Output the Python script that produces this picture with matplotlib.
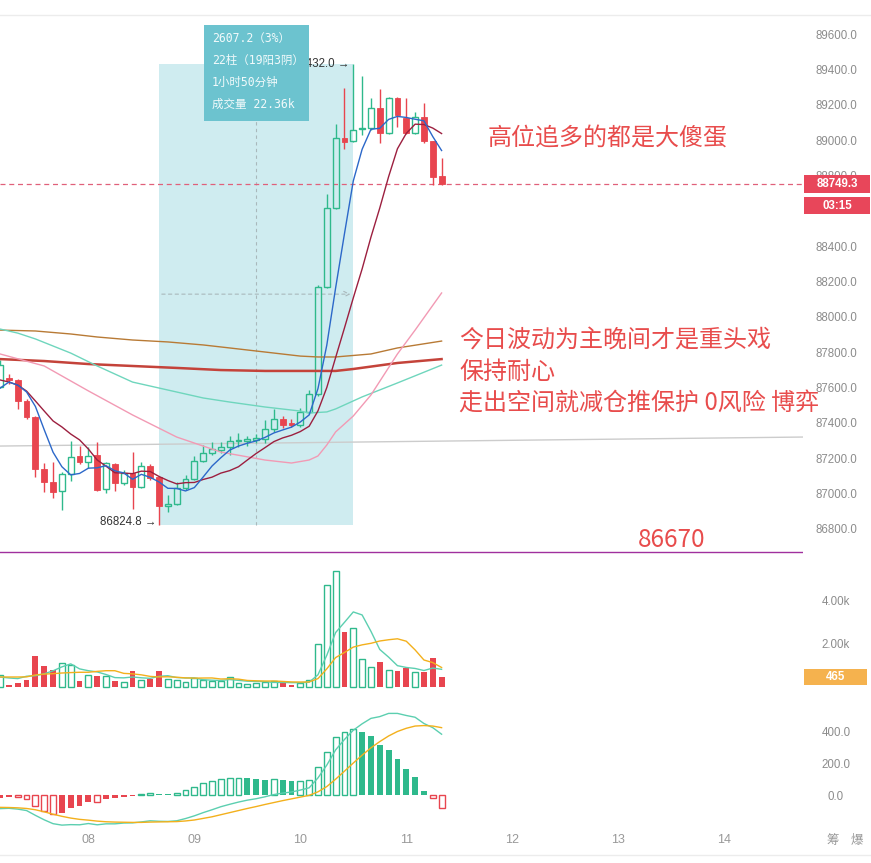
import matplotlib
matplotlib.use("Agg")
import matplotlib.pyplot as plt
from matplotlib.patches import Rectangle
from matplotlib.lines import Line2D
import numpy as np

plt.rcParams['font.family'] = ['Liberation Sans', 'Noto Sans CJK SC', 'DejaVu Sans']

# 2h candles (index 0..50)
opens = [87603, 87654, 87643, 87524, 87433, 87139, 87066, 87015, 87111, 87213,
         87179, 87218, 87026, 87168, 87060, 87117, 87037, 87156, 87094, 86930,
         86941, 87032, 87083, 87184, 87230, 87247, 87264, 87298, 87298, 87303,
         87309, 87365, 87422, 87399, 87388, 87462, 87563, 88169, 88616, 89012,
         88995, 89063, 89068, 89181, 89040, 89238, 89125, 89040, 89130, 88995, 88797]
highs = [87756, 87677, 87648, 87535, 87439, 87173, 87179, 87122, 87298, 87269,
         87264, 87292, 87179, 87173, 87134, 87235, 87179, 87168, 87094, 86992,
         87066, 87105, 87213, 87275, 87292, 87292, 87326, 87343, 87326, 87337,
         87416, 87479, 87439, 87422, 87484, 87586, 88180, 88695, 89091, 89295,
         89432, 89362, 89238, 89289, 89244, 89244, 89238, 89159, 89210, 88995, 88899]
lows = [87595, 87620, 87479, 87422, 87094, 87009, 86975, 86907, 87071, 87168,
        87145, 87015, 87003, 87015, 87049, 86913, 87032, 87077, 86824.8, 86896,
        86936, 87020, 87077, 87179, 87218, 87230, 87218, 87264, 87269, 87286,
        87286, 87349, 87371, 87377, 87377, 87450, 87552, 88163, 88610, 88949,
        88989, 89029, 89057, 88983, 89034, 89074, 89034, 89034, 88983, 88746, 88746]
closes = [87727, 87643, 87524, 87433, 87139, 87066, 87009, 87111, 87207, 87179,
          87213, 87020, 87173, 87060, 87117, 87037, 87156, 87088, 86930, 86941,
          87032, 87083, 87184, 87230, 87252, 87264, 87298, 87303, 87309, 87315,
          87365, 87422, 87388, 87388, 87462, 87563, 88169, 88616, 89012, 88989,
          89057, 89068, 89181, 89040, 89238, 89142, 89040, 89130, 88995, 88791, 88749.3]

ma5 = [87597, 87631, 87614, 87575, 87493, 87361, 87234, 87152, 87106, 87114,
       87144, 87146, 87158, 87129, 87117, 87081, 87109, 87092, 87066, 87030,
       87029, 87015, 87034, 87094, 87156, 87203, 87246, 87269, 87285, 87298,
       87318, 87343, 87360, 87376, 87405, 87445, 87594, 87840, 88164, 88470,
       88769, 88948, 89061, 89067, 89117, 89134, 89128, 89118, 89109, 89020, 88941]
ma10 = [87643, 87631, 87614, 87580, 87524, 87467, 87411, 87377, 87337, 87304,
        87252, 87190, 87155, 87118, 87116, 87113, 87127, 87125, 87097, 87074,
        87055, 87062, 87063, 87080, 87093, 87116, 87130, 87152, 87190, 87227,
        87260, 87294, 87315, 87330, 87351, 87381, 87468, 87600, 87770, 87937,
        88107, 88271, 88451, 88616, 88793, 88951, 89038, 89090, 89088, 89068, 89037]

pink_idx = [0, 5, 10, 15, 20, 25, 30, 33, 35, 36, 37, 38, 40, 42, 45, 47, 50]
pink_val = [87790, 87722, 87581, 87445, 87320, 87235, 87190, 87173, 87190, 87213,
            87275, 87349, 87439, 87558, 87790, 87925, 88135]
teal_idx = [0, 2, 4, 8, 11, 15, 19, 23, 26, 30, 34, 35, 37, 38, 41, 45, 50]
teal_val = [87931, 87908, 87875, 87795, 87722, 87631, 87586, 87541, 87518, 87490,
            87467, 87456, 87462, 87479, 87547, 87626, 87727]
brown_idx = [0, 4, 8, 11, 15, 19, 23, 26, 30, 34, 36, 38, 42, 45, 50]
brown_val = [87925, 87920, 87903, 87886, 87869, 87858, 87841, 87824, 87801, 87778,
             87773, 87773, 87790, 87824, 87863]
red_idx = [0, 5, 10, 15, 20, 25, 30, 35, 38, 40, 45, 50]
red_val = [87761, 87750, 87733, 87722, 87711, 87699, 87694, 87694, 87694, 87705,
           87739, 87761]

volume = [543, 109, 200, 310, 1457, 992, 806, 1116, 1008, 295, 558, 527, 512, 295,
          233, 760, 341, 388, 760, 372, 341, 233, 403, 341, 264, 264, 465, 202, 155,
          202, 233, 264, 202, 109, 202, 326, 2000, 4743, 5394, 2573, 2744, 1302, 930,
          1178, 791, 760, 884, 698, 698, 1364, 465]
vol_ma5 = [465, 420, 390, 500, 524, 614, 753, 936, 1076, 843, 757, 701, 580, 437,
           425, 465, 428, 403, 496, 524, 440, 419, 422, 338, 316, 301, 347, 307, 270,
           258, 251, 211, 211, 202, 202, 221, 568, 1476, 2533, 3007, 3491, 3351, 2589,
           1745, 1389, 992, 909, 862, 766, 881, 822]
vol_ma10 = [465, 465, 465, 470, 560, 600, 620, 650, 670, 684, 685, 727, 758, 757,
            634, 611, 565, 492, 467, 475, 453, 424, 413, 417, 420, 371, 383, 365, 304,
            287, 276, 279, 259, 236, 230, 236, 390, 844, 1368, 1605, 1856, 1960, 2032,
            2139, 2198, 2242, 2130, 1725, 1256, 1135, 907]

macd_hist = [-21, -10, -15, -27, -69, -100, -119, -110, -83, -67, -42, -46, -27, -21,
             -10, -6, 5, 15, 8, 4, 10, 31, 52, 73, 87, 100, 104, 106, 104, 98, 97, 99,
             94, 87, 88, 94, 173, 267, 365, 396, 410, 392, 369, 312, 281, 225, 160, 110,
             25, -21, -83]
dif = [-85, -83, -88, -97, -127, -155, -179, -188, -185, -186, -178, -186, -180, -180,
       -175, -174, -168, -161, -164, -165, -161, -147, -130, -110, -92, -73, -58, -44,
       -32, -23, -11, 3, 12, 19, 31, 45, 107, 187, 282, 347, 405, 445, 479, 490, 510,
       510, 497, 486, 447, 421, 380]
dea = [-77, -78, -80, -84, -92, -105, -120, -133, -144, -152, -157, -163, -167, -169,
       -170, -171, -171, -169, -168, -167, -166, -162, -156, -146, -136, -123, -110,
       -97, -84, -72, -59, -47, -35, -24, -13, -2, 20, 53, 99, 149, 200, 249, 295, 334,
       369, 397, 417, 431, 434, 431, 421]

# 88600 sits fully behind the countdown tag in the reference
price_ticks = [86800, 87000, 87200, 87400, 87600, 87800, 88000, 88200, 88400,
               88800, 89000, 89200, 89400, 89600]
vol_ticks = [2000, 4000]
vol_tick_labels = ['2.00k', '4.00k']
macd_ticks = [0, 200, 400]
day_idx = [10, 22, 34, 46, 58, 70, 82]
day_labels = ['08', '09', '10', '11', '12', '13', '14']

last_price = 88749.3
countdown = '03:15'
support = 86670
sel_start, sel_end = 18, 40
trend_idx = [0, 90.9]
trend_val = [87269, 87320]

GREEN = '#2fb98c'
RED = '#e8454f'
GREY = '#8c8c8c'

W, H = 871, 863
fig = plt.figure(figsize=(W / 100, H / 100), dpi=100)


def box(x0, y0, x1, y1):
    return [x0 / W, 1 - y1 / H, (x1 - x0) / W, (y1 - y0) / H]


ax = fig.add_axes(box(0, 16, 803, 556))
axv = fig.add_axes(box(0, 560, 803, 690))
axm = fig.add_axes(box(0, 695, 803, 828))

for a in (ax, axv, axm):
    for s in a.spines.values():
        s.set_visible(False)
    a.set_xlim(-0.01, 90.93)
    a.yaxis.tick_right()
    a.tick_params(axis='y', length=0, pad=23.8, labelsize=8.3, labelcolor=GREY)
    a.set_xticks([])
    a.patch.set_alpha(0)

ax.set_ylim(86647, 89702)
axv.set_ylim(-140, 5907)
axm.set_ylim(-206, 625)

ax.set_yticks(price_ticks)
ax.set_yticklabels([f'{t:.1f}' for t in price_ticks])
axv.set_yticks(vol_ticks)
axv.set_yticklabels(vol_tick_labels)
axm.set_yticks(macd_ticks)
axm.set_yticklabels([f'{t:.1f}' for t in macd_ticks])
for a in (ax, axv, axm):
    for lab in a.get_yticklabels():
        lab.set_horizontalalignment('center')

axm.set_xticks(day_idx)
axm.set_xticklabels(day_labels)
axm.tick_params(axis='x', length=0, pad=4.5, labelsize=9, labelcolor='#999999')

idx = np.arange(len(closes))

# selection box
mid = (lows[sel_start] + highs[sel_end]) / 2
ax.add_patch(Rectangle((sel_start, lows[sel_start]), sel_end - sel_start,
                       highs[sel_end] - lows[sel_start], facecolor='#cfecf0',
                       edgecolor='none', zorder=0.5))
ax.vlines((sel_start + sel_end) / 2, lows[sel_start], highs[sel_end],
          colors='#a9b8bb', lw=0.8, linestyles=(0, (3, 3)), zorder=0.6)
ax.annotate('', xy=(sel_end, mid), xytext=(sel_start, mid),
            arrowprops=dict(arrowstyle='->', color='#a9b8bb', lw=0.8,
                            linestyle=(0, (3, 3))), zorder=0.6)

# reference lines
ax.plot(trend_idx, trend_val, color='#cccccc', lw=1, zorder=1)
ax.axhline(support, color='#a0309e', lw=1, zorder=1)
ax.axhline(last_price, color='#e0607a', lw=0.9, ls=(0, (4, 3)), zorder=1)

# candles
for i in idx:
    o, h, l, c = opens[i], highs[i], lows[i], closes[i]
    if c >= o:
        ax.vlines(i, c, h, colors=GREEN, lw=1, zorder=3)
        ax.vlines(i, l, o, colors=GREEN, lw=1, zorder=3)
        ax.add_patch(Rectangle((i - 0.33, o), 0.66, max(c - o, 5),
                               facecolor='none', edgecolor=GREEN, lw=1, zorder=3))
    else:
        ax.vlines(i, l, h, colors=RED, lw=1, zorder=3)
        ax.add_patch(Rectangle((i - 0.33, c), 0.66, max(o - c, 5),
                               facecolor=RED, edgecolor=RED, lw=0.6, zorder=3))

# moving averages
ax.plot(brown_idx, brown_val, color='#b87a35', lw=1, zorder=4)
ax.plot(red_idx, red_val, color='#c4433a', lw=1.8, zorder=4)
ax.plot(teal_idx, teal_val, color='#6fd6bd', lw=1, zorder=4)
ax.plot(pink_idx, pink_val, color='#f29ab4', lw=1, zorder=4)
ax.plot(idx, ma10, color='#9c1f3f', lw=1, zorder=4)
ax.plot(idx, ma5, color='#2c68c9', lw=1, zorder=4)

# high / low markers
hi_i = int(np.argmax(highs))
lo_i = int(np.argmin(lows))
ax.text(hi_i - 0.4, highs[hi_i], f'{highs[hi_i]:.1f} →', ha='right', va='center',
        fontsize=8.3, color='#333333', family=['Liberation Sans', 'DejaVu Sans'], zorder=5)
ax.text(lo_i - 0.3, lows[lo_i] + 12, f'{lows[lo_i]:.1f} →', ha='right', va='center',
        fontsize=8.3, color='#333333', family=['Liberation Sans', 'DejaVu Sans'], zorder=5)

# price tags on the right
ytr = ax.get_yaxis_transform()
ax.add_patch(Rectangle((1.0012, last_price - 51), 0.0822, 102, transform=ytr,
                       facecolor='#e8465a', edgecolor='none', clip_on=False, zorder=20))
ax.text(1.0423, last_price, f'{last_price:.1f}', transform=ytr, ha='center',
        va='center', color='white', fontsize=8.3, fontweight='bold', zorder=21)
cd_y = last_price - 120
ax.add_patch(Rectangle((1.0012, cd_y - 48), 0.0822, 96, transform=ytr,
                       facecolor='#e8465a', edgecolor='none', clip_on=False, zorder=20))
ax.text(1.0423, cd_y, countdown, transform=ytr, ha='center', va='center',
        color='white', fontsize=8.3, fontweight='bold', zorder=21)

# volume
for i in idx:
    if closes[i] >= opens[i]:
        axv.bar(i, volume[i], width=0.66, facecolor='none', edgecolor=GREEN, lw=1)
    else:
        axv.bar(i, volume[i], width=0.66, color=RED)
axv.plot(idx, vol_ma5, color='#5ccfb0', lw=1)
axv.plot(idx, vol_ma10, color='#f3b01c', lw=1)
vtr = axv.get_yaxis_transform()
axv.add_patch(Rectangle((1.0012, volume[-1] - 390), 0.0785, 780, transform=vtr,
                        facecolor='#f5b24e', edgecolor='none', clip_on=False, zorder=20))
axv.text(1.0405, volume[-1], f'{volume[-1]}', transform=vtr, ha='center',
         va='center', color='white', fontsize=8.3, fontweight='bold', zorder=21)

# MACD
prev = 0
for i in idx:
    h = macd_hist[i]
    col = GREEN if h >= 0 else RED
    hollow = (h >= 0 and h > prev) or (h < 0 and h < prev)
    if i == 0:
        hollow = False
    if hollow:
        axm.bar(i, h, width=0.66, facecolor='none', edgecolor=col, lw=1)
    else:
        axm.bar(i, h, width=0.66, color=col)
    prev = h
axm.plot(idx, dif, color='#5ccfb0', lw=1)
axm.plot(idx, dea, color='#f3b01c', lw=1)

# info box of the selection
fig.add_artist(Rectangle((204 / W, 1 - 121 / H), 105 / W, 96 / H,
                         transform=fig.transFigure, facecolor='#6cc3cf',
                         edgecolor='none', zorder=10))
info_lines = ['2607.2（3%）', '22柱（19阳3阴）', '1小时50分钟', '成交量 22.36k']
for k, t in enumerate(info_lines):
    fig.text(212 / W, 1 - (38 + 22 * k) / H, t, ha='left', va='center',
             fontsize=8.3, color='#f2fafb', zorder=11,
             family=['DejaVu Sans Mono', 'Noto Sans CJK SC'])

# annotations
cjk = ['Noto Sans CJK SC', 'DejaVu Sans']
ann = '#e84c4c'
fig.text(488 / W, 1 - 138 / H, '高位追多的都是大傻蛋', fontsize=17.3, color=ann,
         va='center', family=cjk, zorder=12)
fig.text(459 / W, 1 - 340 / H, '今日波动为主晚间才是重头戏', fontsize=17.3, color=ann,
         va='center', family=cjk, zorder=12)
fig.text(459 / W, 1 - 372 / H, '保持耐心', fontsize=17.3, color=ann,
         va='center', family=cjk, zorder=12)
fig.text(459 / W, 1 - 404 / H, '走出空间就减仓推保护 0风险 博弈', fontsize=17.3,
         color=ann, va='center', family=cjk, zorder=12)
fig.text(638 / W, 1 - 540 / H, f'{support}', fontsize=17.5, color=ann,
         va='center', family=cjk, zorder=12)

fig.text(833 / W, 1 - 840 / H, '筹', fontsize=9, color='#999999', ha='center',
         va='center', family=cjk)
fig.text(857 / W, 1 - 840 / H, '爆', fontsize=9, color='#999999', ha='center',
         va='center', family=cjk)

fig.add_artist(Line2D([0, 1], [1 - 15 / H] * 2, color='#ececec', lw=1))
fig.add_artist(Line2D([0, 1], [1 - 855 / H] * 2, color='#ececec', lw=1))

fig.savefig('out.png', dpi=100)
